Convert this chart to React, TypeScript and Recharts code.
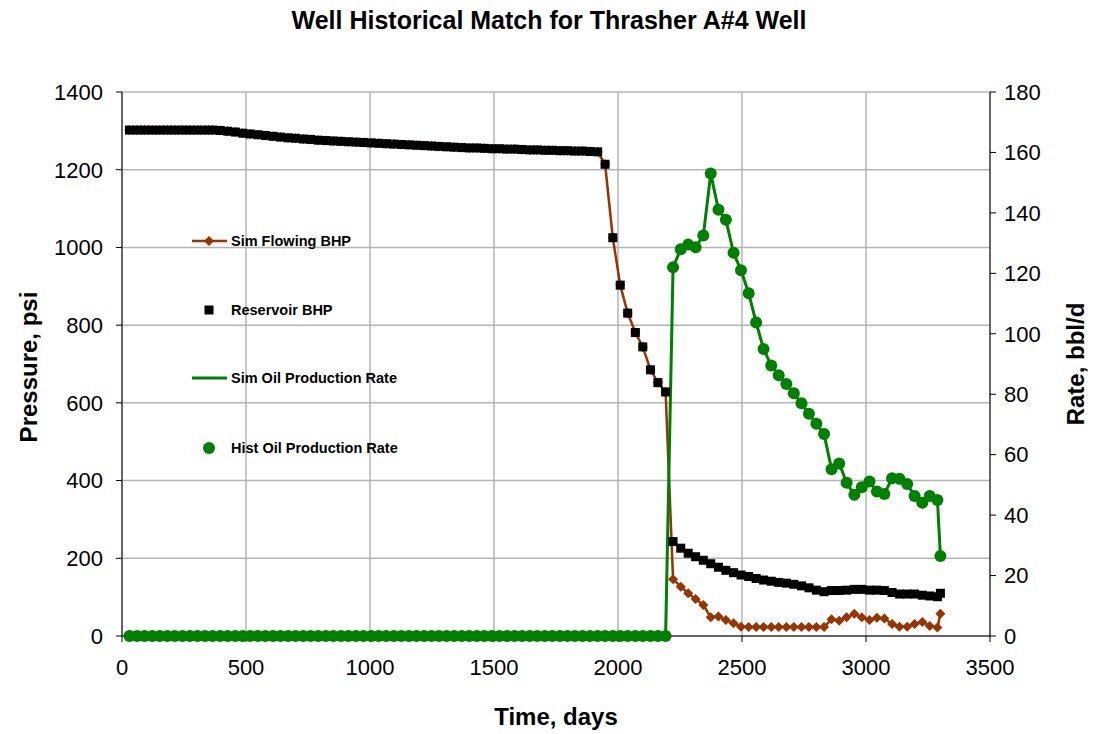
import React from "react";
import { ComposedChart, Line, XAxis, YAxis, CartesianGrid } from "recharts";

// time axis, one sample per month plus the final day
const days = [
  30, 61, 91, 122, 152, 183, 213, 244, 274, 304, 335, 365,
  396, 426, 457, 487, 517, 548, 578, 609, 639, 670, 700, 731,
  761, 791, 822, 852, 883, 913, 944, 974, 1005, 1035, 1065, 1096,
  1126, 1157, 1187, 1218, 1248, 1278, 1309, 1339, 1370, 1400, 1431, 1461,
  1492, 1522, 1552, 1583, 1613, 1644, 1674, 1705, 1735, 1766, 1796, 1826,
  1857, 1887, 1918, 1948, 1979, 2009, 2039, 2070, 2100, 2131, 2161, 2192,
  2222, 2253, 2283, 2313, 2344, 2374, 2405, 2435, 2466, 2496, 2527, 2557,
  2587, 2618, 2648, 2679, 2709, 2740, 2770, 2800, 2831, 2861, 2892, 2922,
  2953, 2983, 3014, 3044, 3074, 3105, 3135, 3166, 3196, 3227, 3257, 3288,
  3300,
];

// before the well comes on, sim and reservoir BHP overlap
const sharedBhp = [
  1302, 1302, 1302, 1302, 1302, 1302, 1302, 1302, 1302, 1302, 1302, 1302,
  1301, 1299, 1297, 1294, 1292, 1290, 1288, 1286, 1284, 1282, 1281, 1279,
  1278, 1276, 1275, 1274, 1273, 1272, 1271, 1270, 1269, 1268, 1267, 1266,
  1265, 1264, 1263, 1262, 1261, 1260, 1259, 1258, 1257, 1256, 1256, 1255,
  1254, 1254, 1253, 1253, 1252, 1251, 1251, 1250, 1250, 1249, 1249, 1248,
  1248, 1247, 1246, 1214, 1025, 903, 831, 781, 744, 685, 652, 628,
];

const flowingTail = [
  146, 127, 110, 95, 80, 48, 50, 41, 33, 24,
  23, 23, 23, 23, 23, 23, 23, 23, 23, 23, 23,
  43, 39, 48, 57, 48, 41, 47, 45, 31, 24, 24, 31, 36, 26, 22,
  57,
];

const reservoirTail = [
  243, 226, 213, 204, 195, 186, 177, 169, 163, 157, 153, 148,
  144, 141, 138, 136, 133, 129, 124, 118, 114, 117, 117, 118,
  120, 120, 118, 118, 117, 112, 108, 108, 108, 105, 103, 101,
  110,
];

const oilRate = [
  0, 0, 0, 0, 0, 0, 0, 0, 0, 0, 0, 0,
  0, 0, 0, 0, 0, 0, 0, 0, 0, 0, 0, 0,
  0, 0, 0, 0, 0, 0, 0, 0, 0, 0, 0, 0,
  0, 0, 0, 0, 0, 0, 0, 0, 0, 0, 0, 0,
  0, 0, 0, 0, 0, 0, 0, 0, 0, 0, 0, 0,
  0, 0, 0, 0, 0, 0, 0, 0, 0, 0, 0, 0,
  122, 128, 129.5, 128.6, 132.5, 153, 141, 137.7, 126.8, 121, 113.4, 103.7,
  95, 89.5, 86.3, 83.4, 80.3, 77, 73.5, 70.2, 66.8, 55.2, 57.1, 50.7,
  46.7, 49.2, 51.1, 47.8, 47, 52.2, 52, 50.3, 46.3, 44.1, 46.3, 45,
  26.5,
];

const dayTicks = [0, 500, 1000, 1500, 2000, 2500, 3000, 3500];
const pressureTicks = [0, 200, 400, 600, 800, 1000, 1200, 1400];
const rateTicks = [0, 20, 40, 60, 80, 100, 120, 140, 160, 180];

const data = days.map((day, i) => ({
  day,
  flowing: i < sharedBhp.length ? sharedBhp[i] : flowingTail[i - sharedBhp.length],
  reservoir: i < sharedBhp.length ? sharedBhp[i] : reservoirTail[i - sharedBhp.length],
  rate: oilRate[i],
}));

const BROWN = "#993300";
const GREEN = "#008000";
const FONT = "'Liberation Sans', Arial, sans-serif";

const Diamond = (props: any) => {
  const { cx, cy, index } = props;
  if (cx == null || cy == null) return <g key={`d${index}`} />;
  return (
    <path
      key={`d${index}`}
      d={`M${cx},${cy - 5} L${cx + 5},${cy} L${cx},${cy + 5} L${cx - 5},${cy} Z`}
      fill={BROWN}
    />
  );
};

const Square = (props: any) => {
  const { cx, cy, index } = props;
  if (cx == null || cy == null) return <g key={`s${index}`} />;
  return <rect key={`s${index}`} x={cx - 4.5} y={cy - 4.5} width={9} height={9} fill="#000" />;
};

const Dot = (props: any) => {
  const { cx, cy, index } = props;
  if (cx == null || cy == null) return <g key={`c${index}`} />;
  return <circle key={`c${index}`} cx={cx} cy={cy} r={6} fill={GREEN} />;
};

const tickStyle = { fill: "#000", fontSize: 22, fontFamily: FONT };

export default function App() {
  return (
    <div style={{ position: "absolute", left: 0, top: 0, width: 1095, height: 734, background: "#fff" }}>
      <ComposedChart
        width={1095}
        height={734}
        data={data}
        margin={{ top: 92, right: 45, bottom: 48, left: 62 }}
        style={{ fontFamily: FONT }}
      >
        <CartesianGrid yAxisId="p" stroke="#b4b4b4" strokeWidth={1.5} />
        <XAxis
          dataKey="day"
          type="number"
          domain={[0, 3500]}
          ticks={dayTicks}
          interval={0}
          height={50}
          tickMargin={17}
          tickSize={6}
          stroke="#000"
          tick={tickStyle}
        />
        <YAxis
          yAxisId="p"
          domain={[0, 1400]}
          ticks={pressureTicks}
          interval={0}
          width={60}
          tickSize={6}
          tickMargin={13}
          stroke="#000"
          tick={tickStyle}
        />
        <YAxis
          yAxisId="r"
          orientation="right"
          domain={[0, 180]}
          ticks={rateTicks}
          interval={0}
          width={60}
          tickSize={6}
          tickMargin={8}
          stroke="#000"
          tick={tickStyle}
        />
        <Line
          yAxisId="p"
          dataKey="flowing"
          stroke={BROWN}
          strokeWidth={2.5}
          dot={Diamond}
          activeDot={false}
          isAnimationActive={false}
        />
        <Line
          yAxisId="p"
          dataKey="reservoir"
          stroke="none"
          dot={Square}
          activeDot={false}
          isAnimationActive={false}
        />
        <Line
          yAxisId="r"
          dataKey="rate"
          stroke={GREEN}
          strokeWidth={3}
          dot={false}
          activeDot={false}
          isAnimationActive={false}
        />
        <Line
          yAxisId="r"
          dataKey="rate"
          stroke="none"
          dot={Dot}
          activeDot={false}
          isAnimationActive={false}
        />
      </ComposedChart>
      <svg
        width={1095}
        height={734}
        style={{ position: "absolute", left: 0, top: 0, pointerEvents: "none", fontFamily: FONT }}
      >
        <text x={549} y={29} textAnchor="middle" fontSize={25} fontWeight="bold">
          Well Historical Match for Thrasher A#4 Well
        </text>
        <text transform="translate(37,367) rotate(-90)" textAnchor="middle" fontSize={24} fontWeight="bold">
          Pressure, psi
        </text>
        <text transform="translate(1084,364) rotate(-90)" textAnchor="middle" fontSize={24} fontWeight="bold">
          Rate, bbl/d
        </text>
        <text x={556} y={725} textAnchor="middle" fontSize={24} fontWeight="bold">
          Time, days
        </text>

        <line x1={192} y1={241} x2={227} y2={241} stroke={BROWN} strokeWidth={2.5} />
        <path d="M209,236 L214,241 L209,246 L204,241 Z" fill={BROWN} />
        <text x={231} y={246} fontSize={14.5} fontWeight="bold">Sim Flowing BHP</text>

        <rect x={204.5} y={305.5} width={9} height={9} fill="#000" />
        <text x={231} y={315} fontSize={14.5} fontWeight="bold">Reservoir BHP</text>

        <line x1={192} y1={378} x2={227} y2={378} stroke={GREEN} strokeWidth={3} />
        <text x={231} y={383} fontSize={14.5} fontWeight="bold">Sim Oil Production Rate</text>

        <circle cx={209} cy={448} r={6} fill={GREEN} />
        <text x={231} y={453} fontSize={14.5} fontWeight="bold">Hist Oil Production Rate</text>
      </svg>
    </div>
  );
}
